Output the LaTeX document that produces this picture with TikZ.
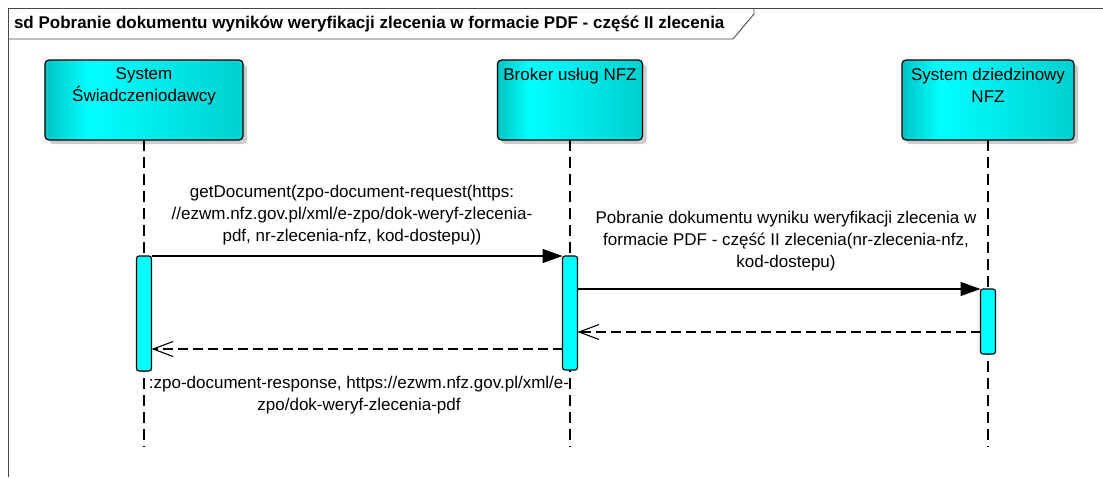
\documentclass[tikz,border=0pt]{standalone}
\usepackage{fontspec}
\setmainfont{Liberation Sans}
\usetikzlibrary{arrows.meta,shadows,calc}
\definecolor{cyanedge}{RGB}{0,195,195}
\definecolor{cyanmid}{RGB}{0,255,255}
\definecolor{cyanright}{RGB}{0,208,208}
\definecolor{framegray}{RGB}{70,70,70}
\pgfdeclarehorizontalshading{lifeshade}{100bp}{color(0bp)=(cyanedge); color(25bp)=(cyanedge); color(36bp)=(cyanmid); color(75bp)=(cyanright); color(100bp)=(cyanright)}
\begin{document}
\begin{tikzpicture}[x=1pt,y=-1pt,
  every node/.style={font=\fontsize{17}{22}\selectfont, inner sep=0pt, outer sep=0pt},
  lifebox/.style={draw=black, line width=1.2pt, rounded corners=4pt,
    shading=lifeshade, shading angle=0,
    drop shadow={shadow xshift=4pt, shadow yshift=-4pt, fill=black!20, opacity=1}},
  boxtext/.style={align=center, anchor=north},
  lifeline/.style={draw=black, line width=1.1pt, dash pattern=on 11pt off 6pt},
  act/.style={draw=black, line width=1.1pt, fill=cyanmid, rounded corners=2.5pt, minimum width=15pt},
  msg/.style={draw=black, line width=1.1pt, -{Triangle[length=20pt,width=14pt]}},
  ret/.style={draw=black, line width=1.1pt, dash pattern=on 10pt off 5pt, -{Straight Barb[length=20pt,width=15pt]}},
  lbl/.style={align=center, anchor=north}
]
\useasboundingbox (0,0) rectangle (1103,477);
% frame
\draw[framegray, line width=0.9pt] (8,477) -- (8,8) -- (1103,8);
\draw[framegray, line width=0.9pt] (8,39) -- (733,39) -- (754,14) -- (754,8);
\node[anchor=west, font=\fontsize{17}{22}\selectfont\bfseries] (title) at (14,24) {sd Pobranie dokumentu wyników weryfikacji zlecenia w formacie PDF - część II zlecenia};
% lifeline heads
\node[lifebox, minimum width=198pt, minimum height=80pt] (box1) at (144,100) {};
\node[lifebox, minimum width=145pt, minimum height=80pt] (box2) at (570,100) {};
\node[lifebox, minimum width=172pt, minimum height=80pt] (box3) at (988,100) {};
\node[boxtext] (t1) at (144,68) {System\\Świadczeniodawcy};
\node[boxtext] (t2) at (570,68) {Broker usług NFZ};
\node[boxtext] (t3) at (988,68) {System dziedzinowy\\NFZ};
% lifelines
\coordinate (end1) at (144,447);
\coordinate (end2) at (570,447);
\coordinate (end3) at (988,447);
\draw[lifeline] (box1.south) -- (end1);
\draw[lifeline] (box2.south) -- (end2);
\draw[lifeline] (box3.south) -- (end3);
% activations
\node[act, minimum height=115pt] (act1) at (144,313.5) {};
\node[act, minimum height=114pt] (act2) at (570,313) {};
\node[act, minimum height=65pt] (act3) at (988,321.5) {};
% messages
\coordinate (r2) at (988,332);
\coordinate (r1) at (570,349);
\draw[msg] (act1.north east) -- (act2.north west);
\draw[msg] (act2.east |- act3.north) -- (act3.north west);
\draw[ret] (act3.west |- r2) -- (act2.east |- r2);
\draw[ret] (act2.west |- r1) -- (act1.east |- r1);
% labels
\node[lbl] (l1) at (352,185) {getDocument(zpo-document-request(https:\\//ezwm.nfz.gov.pl/xml/e-zpo/dok-weryf-zlecenia-\\pdf, nr-zlecenia-nfz, kod-dostepu))};
\node[lbl] (l2) at (786,211) {Pobranie dokumentu wyniku weryfikacji zlecenia w\\formacie PDF - część II zlecenia(nr-zlecenia-nfz,\\kod-dostepu)};
\node[lbl] (l3) at (359,376) {:zpo-document-response, https://ezwm.nfz.gov.pl/xml/e-\\zpo/dok-weryf-zlecenia-pdf};
\end{tikzpicture}
\end{document}
